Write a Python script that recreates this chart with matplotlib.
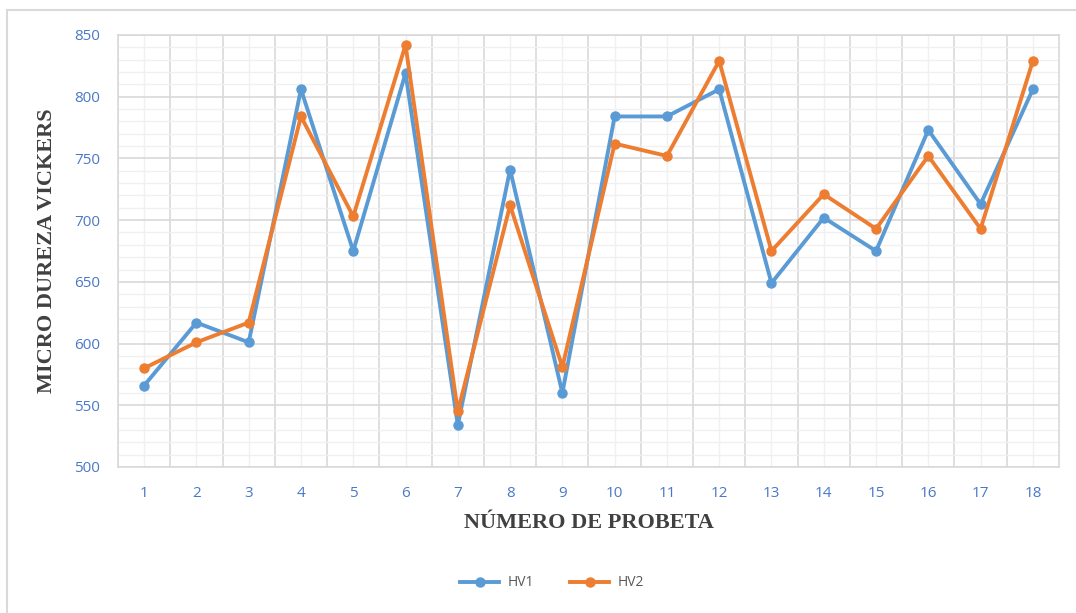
#!/usr/bin/env python3
"""Micro dureza Vickers (HV1 / HV2) por probeta."""

import matplotlib

matplotlib.use("Agg")
import matplotlib.pyplot as plt
from matplotlib.patches import Rectangle
from matplotlib.ticker import MultipleLocator

PROBETAS = list(range(1, 19))
HV1 = [566, 617, 601, 806, 675, 819, 534, 741, 560, 784, 784, 806, 649, 702, 675, 773, 713, 806]
HV2 = [580, 601, 617, 784, 703, 842, 545, 712, 581, 762, 752, 829, 675, 721, 693, 752, 693, 829]
SERIES = (("HV1", HV1, "#5b9bd5"), ("HV2", HV2, "#ed7d31"))

TICK_COLOR = "#4a78c9"
GRID_MAJOR = "#d9d9d9"
GRID_MINOR = "#f0f0f0"

fig = plt.figure(figsize=(10.76, 6.13), dpi=100)
fig.patches.append(
    Rectangle((7 / 1076, -0.1), 1.2, 1 - 10 / 613 + 0.1, transform=fig.transFigure,
              fill=False, edgecolor="#d9d9d9", lw=1.5)
)
ax = fig.add_axes([118 / 1076, 1 - 467 / 613, 941 / 1076, 432 / 613])

for label, values, color in SERIES:
    ax.plot(PROBETAS, values, color=color, lw=2.8, marker="o", ms=6.5,
            label=label, solid_joinstyle="round", zorder=3)

ax.set_xlim(0.5, 18.5)
ax.set_ylim(500, 850)
ax.set_xticks(PROBETAS)
ax.set_xticks([p + 0.5 for p in range(0, 18)], minor=True)
ax.yaxis.set_major_locator(MultipleLocator(50))
ax.yaxis.set_minor_locator(MultipleLocator(10))

# vertical: boundaries darker, category centres lighter
ax.grid(True, axis="y", which="major", color=GRID_MAJOR, lw=1.2)
ax.grid(True, axis="y", which="minor", color=GRID_MINOR, lw=1.0)
ax.grid(True, axis="x", which="minor", color=GRID_MAJOR, lw=1.2)
ax.grid(True, axis="x", which="major", color=GRID_MINOR, lw=1.0)
ax.set_axisbelow(True)

for spine in ax.spines.values():
    spine.set_color(GRID_MAJOR)
    spine.set_linewidth(1.2)

ax.tick_params(which="both", length=0)
ax.tick_params(axis="y", pad=13, labelsize=11, labelcolor=TICK_COLOR)
ax.tick_params(axis="x", pad=14, labelsize=11, labelcolor=TICK_COLOR)
for t in ax.get_xticklabels() + ax.get_yticklabels():
    t.set_fontfamily("Open Sans")

ax.set_ylabel("MICRO DUREZA VICKERS", family="Liberation Serif", fontweight="bold",
              fontsize=16, color="#404040", labelpad=12)
ax.set_xlabel("NÚMERO DE PROBETA", family="Liberation Serif", fontweight="bold",
              fontsize=16, color="#404040", labelpad=8)

fig.legend(loc="center", bbox_to_anchor=(552 / 1076, 1 - 583 / 613), ncol=2,
           frameon=False, handlelength=2.8, handletextpad=0.6, columnspacing=2.6,
           prop={"family": "Open Sans", "size": 10}, labelcolor="#595959")

fig.savefig("out.png", dpi=100)
plt.close(fig)
